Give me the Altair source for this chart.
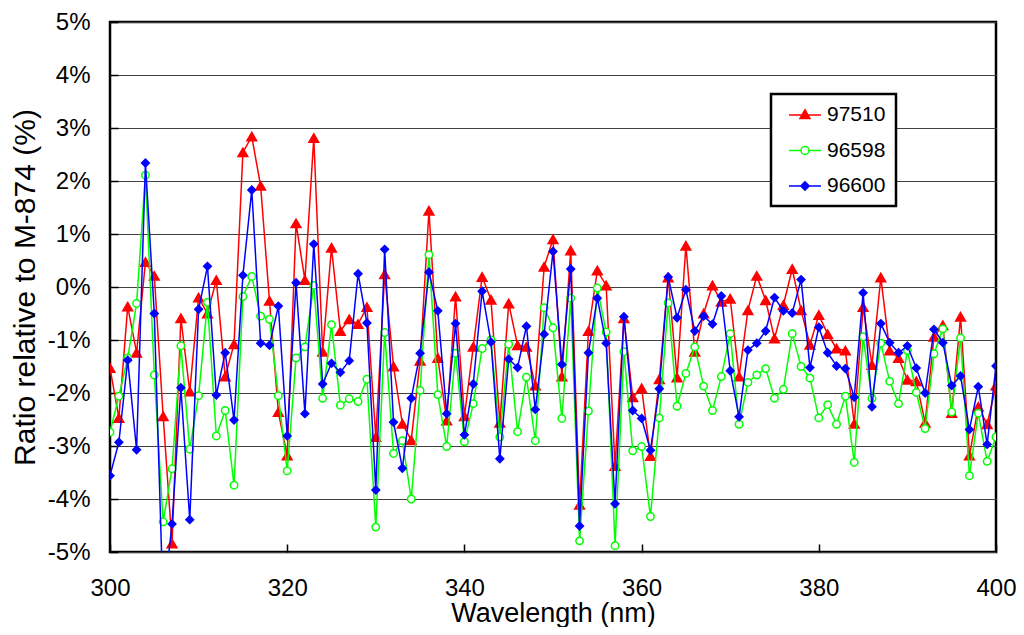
import altair as alt
import pandas as pd

wavelengths = list(range(300, 401))

s97510 = [-1.53, -2.47, -0.37, -1.24, 0.47, 0.21, -2.44, -4.84, -0.59, -1.97,
          -0.20, -0.50, 0.13, -1.69, -1.08, 2.54, 2.84, 1.91, -0.26, -2.36,
          -3.18, 1.20, 0.13, 2.81, -1.22, 0.74, -0.83, -0.61, -0.70, -0.38,
          -2.83, 0.24, -1.50, -2.58, -2.89, -1.39, 1.44, -1.34, -2.52, -0.18,
          -2.44, -1.13, 0.19, -0.24, -2.56, -0.31, -1.10, -1.13, -1.86, 0.38,
          0.90, -1.69, 0.69, -4.11, -0.83, 0.31, 0.03, -3.38, -0.59, -2.08,
          -1.91, -3.19, -1.74, 0.18, -1.71, 0.78, -1.22, -0.50, 0.03, -0.28,
          -0.22, -1.69, -0.44, 0.21, -0.25, -0.97, -0.34, 0.34, -0.44, -1.09,
          -0.53, -0.89, -1.16, -1.20, -2.58, -0.38, -1.47, 0.18, -1.20, -1.34,
          -1.75, -1.78, -2.56, -0.94, -0.72, -2.38, -0.56, -3.18, -2.26, -2.59,
          -1.86]

s96598 = [-2.74, -2.06, -1.34, -0.31, 2.11, -1.66, -4.43, -3.43, -1.11, -3.06,
          -2.05, -0.29, -2.81, -2.33, -3.74, -0.18, 0.20, -0.55, -0.61, -2.05,
          -3.47, -1.34, -1.13, 0.03, -2.10, -0.71, -2.23, -2.11, -2.16, -1.74,
          -4.53, -0.86, -3.14, -2.90, -4.00, -1.95, 0.61, -2.03, -3.01, -1.25,
          -2.92, -2.20, -1.16, -1.00, -2.83, -1.08, -2.73, -1.70, -2.90, -0.39,
          -0.77, -2.48, -0.21, -4.79, -2.34, -0.02, -0.85, -4.88, -1.22, -3.09,
          -3.01, -4.33, -2.47, -0.30, -2.25, -1.63, -1.13, -1.87, -2.33, -1.69,
          -0.88, -2.59, -1.80, -1.66, -1.54, -2.10, -1.93, -0.88, -1.50, -1.72,
          -2.47, -2.22, -2.59, -2.06, -3.31, -0.94, -2.10, -1.06, -1.78, -2.20,
          -1.20, -1.99, -2.67, -1.26, -0.79, -2.36, -0.96, -3.56, -2.38, -3.29,
          -2.83]

s96600 = [-3.56, -2.93, -1.38, -3.07, 2.34, -0.50, -6.00, -4.47, -1.90, -4.39,
          -0.42, 0.39, -2.04, -1.24, -2.51, 0.22, 1.83, -1.06, -1.10, -0.36,
          -2.81, 0.08, -2.39, 0.81, -1.83, -1.44, -1.61, -1.39, 0.25, -0.68,
          -3.83, 0.71, -2.55, -3.42, -2.10, -1.25, 0.28, -0.45, -2.39, -0.69,
          -2.79, -1.83, -0.08, -1.04, -3.24, -1.36, -1.52, -0.74, -2.31, -0.89,
          0.67, -1.46, 0.34, -4.51, -1.24, -0.21, -1.06, -4.09, -0.56, -2.33,
          -2.48, -3.08, -1.92, 0.19, -0.58, -0.05, -0.83, -0.55, -0.70, -0.17,
          -1.58, -2.45, -1.19, -1.06, -0.83, -0.20, -0.45, -0.49, 0.14, -1.52,
          -0.76, -1.24, -1.49, -1.54, -2.08, -0.11, -2.26, -0.69, -1.05, -1.24,
          -1.11, -1.53, -2.00, -0.80, -1.05, -1.86, -1.68, -2.69, -1.88, -2.97,
          -1.49]

series_names = ["97510", "96598", "96600"]
series_values = [s97510, s96598, s96600]
line_colors = ["#FF0000", "#00FF00", "#0000FF"]
marker_fills = ["#FF0000", "#FFFFFF", "#0000FF"]
marker_shapes = ["triangle-up", "circle", "diamond"]
marker_sizes = [95, 55, 60]

x_ticks = [300, 320, 340, 360, 380, 400]
y_ticks = [-5, -4, -3, -2, -1, 0, 1, 2, 3, 4, 5]

# legend symbols: a line segment with the series marker on it
legend_paths = [
    "M-1.6,0L1.6,0M0,-0.52L0.5,0.36L-0.5,0.36Z",
    "M-1.6,0L-0.4,0M0.4,0L1.6,0"
    "M0.4,0C0.4,0.22,0.22,0.4,0,0.4C-0.22,0.4,-0.4,0.22,-0.4,0"
    "C-0.4,-0.22,-0.22,-0.4,0,-0.4C0.22,-0.4,0.4,-0.22,0.4,0Z",
    "M-1.6,0L1.6,0M0,-0.42L0.42,0L0,0.42L-0.42,0Z",
]

rows = []
for name, vals in zip(series_names, series_values):
    for w, v in zip(wavelengths, vals):
        rows.append({"nm": w, "series": name, "value": v})
df = pd.DataFrame(rows)

FONT = "Liberation Sans"

x_enc = alt.X(
    "nm:Q",
    scale=alt.Scale(domain=[300, 400], nice=False, zero=False),
    axis=alt.Axis(
        values=x_ticks, format="d", title="Wavelength (nm)",
        grid=False, domain=False, ticks=True, tickSize=8, offset=-8,
        labelPadding=24, titlePadding=0, titleFontSize=27,
        labelFlush=False, labelOverlap=False,
    ),
)
y_enc = alt.Y(
    "value:Q",
    scale=alt.Scale(domain=[-5, 5], nice=False, zero=False),
    axis=alt.Axis(
        values=y_ticks, labelExpr="datum.value + '%'",
        title="Ratio relative to M-874 (%)", titleFontSize=30,
        grid=True, gridColor="#404040", gridWidth=1,
        domain=False, ticks=True, tickSize=8, offset=-8,
        labelPadding=20, titlePadding=7, labelFlush=False, labelOverlap=False,
    ),
)

base = alt.Chart(df)
layers = []
for name, col, fil, shp, sz in zip(series_names, line_colors, marker_fills,
                                   marker_shapes, marker_sizes):
    sub = base.transform_filter(alt.datum.series == name)
    layers.append(
        sub.mark_line(color=col, strokeWidth=1.5, clip=True).encode(x=x_enc, y=y_enc)
    )
    layers.append(
        sub.mark_point(shape=shp, size=sz, fill=fil, stroke=col, strokeWidth=1.5,
                       opacity=1, fillOpacity=1, strokeOpacity=1, clip=True)
        .encode(x=x_enc, y=y_enc)
    )

leg_props = dict(
    orient="none", legendX=661, legendY=72, title=None,
    labelFont=FONT, labelFontSize=21, labelColor="black",
    symbolSize=400, symbolStrokeWidth=1.5, symbolOffset=13,
    labelOffset=11, padding=10, rowPadding=14.5,
    strokeColor="black", fillColor="white",
)
legend_layer = base.transform_filter("false").mark_point(
    opacity=1, strokeWidth=1.5
).encode(
    shape=alt.Shape("series:N", scale=alt.Scale(domain=series_names, range=legend_paths),
                    legend=alt.Legend(**leg_props)),
    stroke=alt.Stroke("series:N", scale=alt.Scale(domain=series_names, range=line_colors),
                      legend=alt.Legend(**leg_props)),
    fill=alt.Fill("series:N", scale=alt.Scale(domain=series_names, range=marker_fills),
                  legend=alt.Legend(**leg_props)),
)
layers.append(legend_layer)

chart = alt.layer(*layers).properties(
    width=886, height=530,
    autosize=alt.AutoSizeParams(type="none"),
    padding={"left": 102, "top": 14, "right": 20, "bottom": 75},
).configure_view(
    stroke="black", strokeWidth=2.5
).configure_axis(
    labelFont=FONT, titleFont=FONT, labelFontSize=24,
    labelColor="black", titleColor="black", tickColor="black", tickWidth=1.5,
    titleFontWeight="normal",
).configure_legend(
    strokeWidth=2.5
)

chart.save("out.html", embed_options={"renderer": "svg", "actions": False})
